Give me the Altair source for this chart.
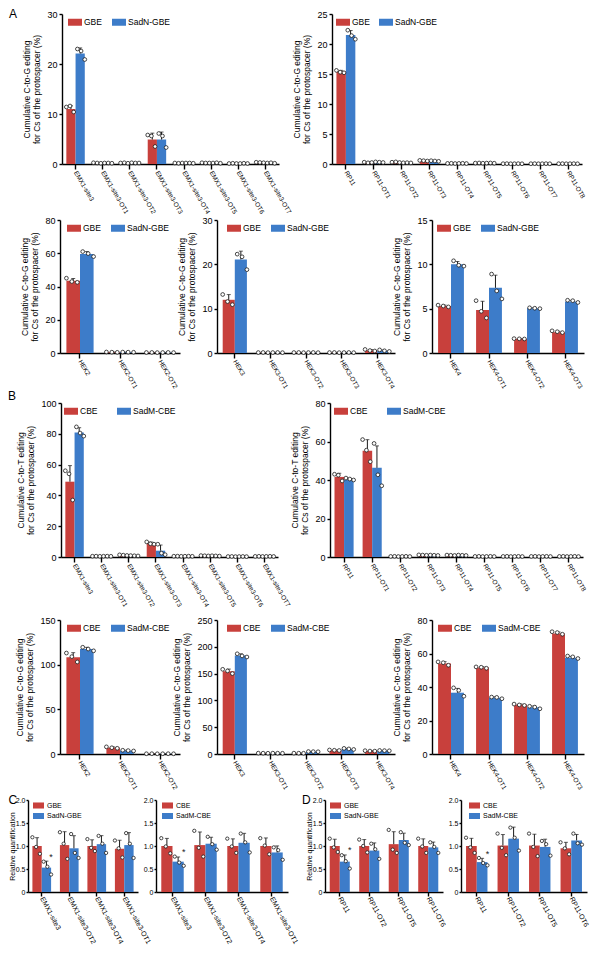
import altair as alt
import numpy as np
import pandas as pd

FONT = "Liberation Sans"
RED = "#C8403C"
BLUE = "#3D7CC9"

TITLE_G = ["Cumulative C-to-G editing", "for Cs of the protospacer (%)"]
TITLE_T = ["Cumulative C-to-T editing", "for Cs of the protospacer (%)"]
GBE_NAMES = ("GBE", "SadN-GBE")
CBE_NAMES = ("CBE", "SadM-CBE")

# ---------------- Panel A ----------------
A1_cats = ["EMX1-site3", "EMX1-site3-OT1", "EMX1-site3-OT2", "EMX1-site3-OT3",
           "EMX1-site3-OT4", "EMX1-site3-OT5", "EMX1-site3-OT6", "EMX1-site3-OT7"]
A1_gbe = [11.0, 0.2, 0.2, 4.9, 0.2, 0.2, 0.1, 0.3]
A1_sadn = [22.1, 0.2, 0.2, 4.9, 0.2, 0.2, 0.1, 0.2]
A1_gbe_pts = [[11.4, 11.6, 10.4], [0.25, 0.2, 0.15], [0.2, 0.25, 0.15], [5.8, 5.6, 3.5],
              [0.2, 0.15, 0.2], [0.25, 0.2, 0.2], [0.1, 0.15, 0.1], [0.35, 0.3, 0.25]]
A1_sadn_pts = [[23.0, 22.6, 20.9], [0.2, 0.2, 0.15], [0.25, 0.2, 0.2], [6.1, 5.6, 3.3],
               [0.2, 0.2, 0.15], [0.2, 0.25, 0.15], [0.1, 0.15, 0.1], [0.2, 0.25, 0.15]]

A2_cats = ["RP11", "RP11-OT1", "RP11-OT2", "RP11-OT3", "RP11-OT4",
           "RP11-OT5", "RP11-OT6", "RP11-OT7", "RP11-OT8"]
A2_gbe = [15.4, 0.25, 0.3, 0.55, 0.1, 0.15, 0.05, 0.05, 0.05]
A2_sadn = [21.5, 0.3, 0.2, 0.5, 0.1, 0.15, 0.05, 0.05, 0.05]
A2_gbe_pts = [[15.6, 15.3, 15.2], [0.3, 0.2, 0.25], [0.3, 0.35, 0.25], [0.6, 0.55, 0.5],
              [0.1, 0.12, 0.08], [0.15, 0.17, 0.13], [0.05, 0.06, 0.04], [0.05, 0.06, 0.04],
              [0.05, 0.06, 0.04]]
A2_sadn_pts = [[22.3, 21.4, 20.8], [0.35, 0.3, 0.25], [0.2, 0.22, 0.18], [0.55, 0.5, 0.45],
               [0.1, 0.12, 0.08], [0.15, 0.17, 0.13], [0.05, 0.06, 0.04], [0.05, 0.06, 0.04],
               [0.05, 0.06, 0.04]]

A3_cats = ["HEK2", "HEK2-OT1", "HEK2-OT2"]
A3_gbe = [43.5, 0.5, 0.3]
A3_sadn = [59.5, 0.5, 0.3]
A3_gbe_pts = [[45.0, 43.0, 42.5], [0.6, 0.5, 0.4], [0.3, 0.35, 0.25]]
A3_sadn_pts = [[61.0, 59.8, 58.0], [0.55, 0.5, 0.45], [0.3, 0.35, 0.25]]

A4_cats = ["HEK3", "HEK3-OT1", "HEK3-OT2", "HEK3-OT3", "HEK3-OT4"]
A4_gbe = [12.0, 0.1, 0.1, 0.1, 0.6]
A4_sadn = [21.1, 0.1, 0.1, 0.1, 0.5]
A4_gbe_pts = [[13.2, 11.6, 10.9], [0.1, 0.12, 0.08], [0.1, 0.12, 0.08], [0.1, 0.12, 0.08],
              [0.8, 0.55, 0.45]]
A4_sadn_pts = [[22.3, 21.7, 18.8], [0.1, 0.12, 0.08], [0.1, 0.12, 0.08], [0.1, 0.12, 0.08],
               [0.7, 0.5, 0.35]]

A5_cats = ["HEK4", "HEK4-OT1", "HEK4-OT2", "HEK4-OT3"]
A5_gbe = [5.3, 4.85, 1.6, 2.35]
A5_sadn = [10.0, 7.35, 5.05, 5.8]
A5_gbe_pts = [[5.4, 5.3, 5.2], [5.9, 4.7, 3.95], [1.62, 1.6, 1.58], [2.5, 2.4, 2.3]]
A5_sadn_pts = [[10.4, 9.9, 9.8], [8.9, 7.0, 6.1], [5.1, 5.05, 5.0], [5.95, 5.9, 5.7]]

# ---------------- Panel B ----------------
B1_cats = A1_cats
B1_cbe = [48.9, 0.5, 1.2, 8.9, 0.5, 0.8, 0.3, 0.4]
B1_sadm = [80.9, 0.5, 0.8, 4.1, 0.5, 0.7, 0.3, 0.4]
B1_cbe_pts = [[56.0, 54.0, 37.0], [0.5, 0.55, 0.45], [1.4, 1.2, 1.0], [9.8, 8.6, 8.3],
              [0.5, 0.55, 0.45], [0.9, 0.8, 0.7], [0.3, 0.35, 0.25], [0.4, 0.45, 0.35]]
B1_sadm_pts = [[84.5, 80.5, 78.5], [0.5, 0.55, 0.45], [0.9, 0.8, 0.7], [8.3, 2.5, 1.5],
               [0.5, 0.55, 0.45], [0.8, 0.7, 0.6], [0.3, 0.35, 0.25], [0.4, 0.45, 0.35]]

B2_cats = A2_cats
B2_cbe = [41.6, 55.2, 0.3, 1.0, 0.9, 0.3, 0.3, 0.3, 0.3]
B2_sadm = [40.2, 46.3, 0.3, 0.9, 0.9, 0.3, 0.3, 0.3, 0.3]
B2_cbe_pts = [[43.0, 42.5, 39.5], [61.0, 55.5, 49.5], [0.3, 0.35, 0.25], [1.1, 1.0, 0.9],
              [1.0, 0.9, 0.8], [0.3, 0.35, 0.25], [0.3, 0.35, 0.25], [0.3, 0.35, 0.25],
              [0.3, 0.35, 0.25]]
B2_sadm_pts = [[41.0, 40.5, 40.0], [59.0, 42.7, 37.0], [0.3, 0.35, 0.25], [1.0, 0.9, 0.8],
               [1.0, 0.9, 0.8], [0.3, 0.35, 0.25], [0.3, 0.35, 0.25], [0.3, 0.35, 0.25],
               [0.3, 0.35, 0.25]]

B3_cats = A3_cats
B3_cbe = [108.4, 7.1, 0.3]
B3_sadm = [117.4, 3.8, 0.3]
B3_cbe_pts = [[113.0, 109.0, 103.0], [8.0, 7.0, 6.4], [0.3, 0.35, 0.25]]
B3_sadm_pts = [[119.5, 117.5, 115.5], [4.2, 3.8, 3.4], [0.3, 0.35, 0.25]]

B4_cats = A4_cats
B4_cbe = [154.4, 1.5, 1.5, 7.0, 5.7]
B4_sadm = [183.8, 1.5, 4.4, 9.5, 6.3]
B4_cbe_pts = [[158.0, 155.0, 150.0], [1.6, 1.5, 1.4], [1.6, 1.5, 1.4], [7.5, 7.0, 6.5],
              [6.2, 5.5, 5.4]]
B4_sadm_pts = [[187.0, 183.0, 181.0], [1.6, 1.5, 1.4], [4.6, 4.4, 4.2], [10.5, 9.5, 8.5],
               [6.6, 6.3, 6.0]]

B5_cats = A5_cats
B5_cbe = [54.1, 51.7, 29.5, 72.0]
B5_sadm = [36.6, 33.6, 27.9, 57.5]
B5_cbe_pts = [[55.0, 54.5, 53.0], [52.0, 51.8, 51.2], [29.8, 29.3, 29.0], [73.0, 72.5, 71.5]]
B5_sadm_pts = [[39.5, 38.0, 34.5], [34.0, 33.8, 33.0], [28.5, 28.0, 27.0], [58.5, 58.0, 57.0]]

# ---------------- Panels C / D (relative quantification) ----------------
C_cats = ["EMX1-site3", "EMX1-site3-OT2", "EMX1-site3-OT4", "EMX1-site3-OT1"]
C1_gbe = [1.0, 1.02, 1.0, 0.94]
C1_sadn = [0.53, 0.95, 1.04, 1.02]
C1_gbe_pts = [[1.19, 0.98, 0.83], [1.30, 1.05, 0.72], [1.15, 0.96, 0.89], [1.12, 0.95, 0.75]]
C1_sadn_pts = [[0.66, 0.55, 0.38], [1.26, 0.85, 0.74], [1.22, 1.05, 0.85], [1.28, 1.05, 0.74]]
C1_star = ("EMX1-site3", "SadN-GBE", 0.76)

C2_cbe = [1.0, 1.02, 1.0, 1.0]
C2_sadm = [0.66, 1.05, 1.07, 0.86]
C2_cbe_pts = [[1.17, 0.99, 0.84], [1.33, 0.96, 0.77], [1.16, 0.99, 0.85], [1.17, 1.01, 0.82]]
C2_sadm_pts = [[0.77, 0.64, 0.57], [1.20, 1.04, 0.92], [1.27, 1.08, 0.86], [0.97, 0.91, 0.70]]
C2_star = ("EMX1-site3", "SadM-CBE", 0.87)

D_cats = ["RP11", "RP11-OT2", "RP11-OT5", "RP11-OT6"]
D1_gbe = [1.0, 1.0, 1.04, 1.0]
D1_sadn = [0.66, 0.90, 1.13, 0.97]
D1_gbe_pts = [[1.16, 0.97, 0.87], [1.14, 1.0, 0.86], [1.35, 0.92, 0.85], [1.16, 0.99, 0.85]]
D1_sadn_pts = [[0.80, 0.67, 0.51], [1.05, 0.93, 0.72], [1.30, 1.07, 1.02], [1.08, 0.98, 0.85]]
D1_star = ("RP11", "SadN-GBE", 0.92)

D2_cbe = [1.0, 1.01, 1.01, 0.95]
D2_sadm = [0.65, 1.16, 0.98, 1.12]
D2_cbe_pts = [[1.18, 0.97, 0.85], [1.27, 0.96, 0.80], [1.27, 0.98, 0.78], [1.08, 0.95, 0.82]]
D2_sadm_pts = [[0.74, 0.63, 0.58], [1.40, 1.18, 0.90], [1.11, 1.04, 0.79], [1.27, 1.06, 1.03]]
D2_star = ("RP11", "SadM-CBE", 0.83)

Y_REL = [0, 0.5, 1.0, 1.5, 2.0]


def panel(cats, names, means, pts, ytitle, yvals, w, h, legx, legy=1, colpad=10,
          letter=None, anchor=None, star=None, small=False):
    g1, g2 = names
    brows, prows = [], []
    for i, c in enumerate(cats):
        for g, m, p in ((g1, means[0], pts[0]), (g2, means[1], pts[1])):
            sd = float(np.std(p[i], ddof=1))
            brows.append({"cat": c, "grp": g, "mean": m[i], "hi": m[i] + sd})
            for k, v in enumerate(p[i]):
                prows.append({"cat": c, "sub": f"{g}|{k}", "val": v})
    bdf = pd.DataFrame(brows)
    pdf = pd.DataFrame(prows)
    subs = [f"{g}|{k}" for g in names for k in range(3)]

    xaxis = alt.Axis(title=None, labelAngle=62 if small else 60, labelAlign="left",
                     labelBaseline="middle", labelFontSize=7 if small else 6.5,
                     labelPadding=1 if small else 2, tickSize=4 if small else 5,
                     labelOverlap=False, labelLimit=200)
    xenc = alt.X("cat:N", sort=cats,
                 scale=alt.Scale(domain=cats, paddingInner=0.32, paddingOuter=0.16), axis=xaxis)
    xo = alt.XOffset("grp:N", scale=alt.Scale(domain=list(names), paddingInner=0, paddingOuter=0))
    yscale = alt.Scale(domain=[0, yvals[-1]], nice=False, zero=True)
    if small:
        yaxis = alt.Axis(values=yvals, title=ytitle,
                         labelExpr="datum.value == 0 ? '0' : format(datum.value, '.1f')",
                         labelFontSize=7, titleFontSize=7, tickSize=2, labelPadding=1,
                         titlePadding=0)
        legend = alt.Legend(title=None, orient="none", legendX=legx, legendY=legy,
                            direction="vertical", symbolType="M-1,-0.55H1V0.55H-1Z",
                            symbolSize=121, symbolStrokeWidth=0, symbolOpacity=1,
                            labelFontSize=7, labelOffset=3, rowPadding=1.5, padding=0)
    else:
        yaxis = alt.Axis(values=yvals, title=ytitle, format="d", labelFontSize=9,
                         titleFontSize=8.5, tickSize=3, labelPadding=2, titlePadding=5,
                         titleLineHeight=10)
        legend = alt.Legend(title=None, orient="none", legendX=legx, legendY=legy,
                            direction="horizontal", symbolType="M-1,-0.5H1V0.5H-1Z",
                            symbolSize=196, symbolStrokeWidth=0, symbolOpacity=1,
                            labelFontSize=8.5, labelOffset=2, columnPadding=colpad, padding=0)

    def Y(f):
        return alt.Y(f, scale=yscale, axis=yaxis)

    color = alt.Color("grp:N", scale=alt.Scale(domain=list(names), range=[RED, BLUE]),
                      legend=legend)
    base = alt.Chart(bdf)
    layers = [
        base.mark_bar().encode(x=xenc, xOffset=xo, y=Y("mean:Q"), color=color),
        base.mark_rule(color="#1a1a1a", strokeWidth=1).encode(
            x=xenc, xOffset=xo, y=Y("mean:Q"), y2="hi:Q"),
        base.mark_tick(orient="horizontal", color="#1a1a1a", size=4, thickness=1).encode(
            x=xenc, xOffset=xo, y=Y("hi:Q")),
        alt.Chart(pdf).mark_point(shape="circle", filled=True, fill="white", stroke="#1a1a1a",
                                  strokeWidth=0.8, size=11 if small else 14, opacity=1).encode(
            x=xenc,
            xOffset=alt.XOffset("sub:N", scale=alt.Scale(domain=subs, paddingInner=0,
                                                          paddingOuter=0)),
            y=Y("val:Q")),
    ]
    if star is not None:
        sdf = pd.DataFrame({"cat": [star[0]], "grp": [star[1]], "sy": [star[2]], "t": ["*"]})
        layers.append(alt.Chart(sdf).mark_text(fontSize=9, baseline="middle", color="#1a1a1a",
                                               font=FONT).encode(
            x=xenc, xOffset=xo, y=Y("sy:Q"), text="t:N"))
    if letter is not None:
        txt, mx, my = letter
        layers.append(alt.Chart(pd.DataFrame({"t": [txt]})).mark_text(
            align="left", baseline="top", fontSize=12, font=FONT, color="black").encode(
            x=alt.value(mx), y=alt.value(my), text="t:N"))
    if anchor is not None:
        ax_, ay_ = anchor
        layers.append(alt.Chart(pd.DataFrame({"a": [0]})).mark_rect(opacity=0).encode(
            x=alt.value(ax_), x2=alt.value(ax_ + 1), y=alt.value(ay_), y2=alt.value(ay_ + 1)))
    return alt.layer(*layers).resolve_scale(xOffset="independent").properties(width=w, height=h)


def spacer(w):
    return alt.Chart(pd.DataFrame({"a": [0]})).mark_rect(opacity=0).encode(
        x=alt.value(0), x2=alt.value(w), y=alt.value(0), y2=alt.value(1)
    ).properties(width=w, height=1)


Y_A1 = [0, 10, 20, 30]
Y_A2 = [0, 5, 10, 15, 20, 25]
Y_A3 = [0, 20, 40, 60, 80]
Y_A4 = [0, 10, 20, 30]
Y_A5 = [0, 5, 10, 15]
Y_B1 = [0, 20, 40, 60, 80, 100]
Y_B2 = [0, 20, 40, 60, 80]
Y_B3 = [0, 50, 100, 150]
Y_B4 = [0, 50, 100, 150, 200, 250]
Y_B5 = [0, 20, 40, 60, 80]

pA1 = panel(A1_cats, GBE_NAMES, (A1_gbe, A1_sadn), (A1_gbe_pts, A1_sadn_pts), TITLE_G, Y_A1,
            217, 150, 6, 1, 10, letter=("A", -53, -5))
pA2 = panel(A2_cats, GBE_NAMES, (A2_gbe, A2_sadn), (A2_gbe_pts, A2_sadn_pts), TITLE_G, Y_A2,
            250, 150, 4, 1, 9)
pA3 = panel(A3_cats, GBE_NAMES, (A3_gbe, A3_sadn), (A3_gbe_pts, A3_sadn_pts), TITLE_G, Y_A3,
            120, 133, 7, 1, 10, anchor=(0, -5))
pA4 = panel(A4_cats, GBE_NAMES, (A4_gbe, A4_sadn), (A4_gbe_pts, A4_sadn_pts), TITLE_G, Y_A4,
            178, 133, 10, 1, 10)
pA5 = panel(A5_cats, GBE_NAMES, (A5_gbe, A5_sadn), (A5_gbe_pts, A5_sadn_pts), TITLE_G, Y_A5,
            152, 133, 5, 1, 10)

pB1 = panel(B1_cats, CBE_NAMES, (B1_cbe, B1_sadm), (B1_cbe_pts, B1_sadm_pts), TITLE_T, Y_B1,
            217, 154, 3, 1, 19, letter=("B", -53, -12))
pB2 = panel(B2_cats, CBE_NAMES, (B2_cbe, B2_sadm), (B2_cbe_pts, B2_sadm_pts), TITLE_T, Y_B2,
            253, 154, 4, 1, 19)
pB3 = panel(B3_cats, CBE_NAMES, (B3_cbe, B3_sadm), (B3_cbe_pts, B3_sadm_pts), TITLE_G, Y_B3,
            120, 134, 7, 1, 10, anchor=(0, -12))
pB4 = panel(B4_cats, CBE_NAMES, (B4_cbe, B4_sadm), (B4_cbe_pts, B4_sadm_pts), TITLE_G, Y_B4,
            178, 134, 10, 1, 10)
pB5 = panel(B5_cats, CBE_NAMES, (B5_cbe, B5_sadm), (B5_cbe_pts, B5_sadm_pts), TITLE_G, Y_B5,
            152, 134, 6, 1, 10)

pC1 = panel(C_cats, GBE_NAMES, (C1_gbe, C1_sadn), (C1_gbe_pts, C1_sadn_pts),
            "Relative quantification", Y_REL, 110, 92, 5, 0, small=True, star=C1_star,
            letter=("C", -19.5, -5), anchor=(0, -9))
pC2 = panel(C_cats, CBE_NAMES, (C2_cbe, C2_sadm), (C2_cbe_pts, C2_sadm_pts),
            None, Y_REL, 132, 92, 6, 0, small=True, star=C2_star)
pD1 = panel(D_cats, GBE_NAMES, (D1_gbe, D1_sadn), (D1_gbe_pts, D1_sadn_pts),
            "Relative quantification", Y_REL, 118, 92, 5, 0, small=True, star=D1_star,
            letter=("D", -23, -5))
pD2 = panel(D_cats, CBE_NAMES, (D2_cbe, D2_sadm), (D2_cbe_pts, D2_sadm_pts),
            None, Y_REL, 126, 92, 8, 0, small=True, star=D2_star)

row1 = alt.hconcat(spacer(1), pA1, pA2, spacing=53,
                   bounds="flush").resolve_scale(color="independent")
row2 = alt.hconcat(spacer(15), pA3, pA4, pA5, spacing=37,
                   bounds="flush").resolve_scale(color="independent")
row3 = alt.hconcat(spacer(1), pB1, pB2, spacing=52,
                   bounds="flush").resolve_scale(color="independent")
row4 = alt.hconcat(spacer(15), pB3, pB4, pB5, spacing=37,
                   bounds="flush").resolve_scale(color="independent")
row5 = alt.hconcat(spacer(2), pC1, pC2, spacer(1), pD1, pD2, spacing=18,
                   bounds="flush").resolve_scale(color="independent")

chart = alt.concat(row1, row2, row3, row4, row5, columns=1, align="none", spacing=0,
                   padding=0).resolve_scale(color="independent").configure(
    font=FONT
).configure_view(stroke=None).configure_axis(
    domainColor="black", domainWidth=1.4, tickColor="black", tickWidth=1.4,
    labelColor="black", titleColor="black", grid=False, labelFont=FONT, titleFont=FONT,
    titleFontWeight="normal"
).configure_legend(labelFont=FONT, labelColor="black")

chart.save("out.html", embed_options={"renderer": "svg", "actions": False})
